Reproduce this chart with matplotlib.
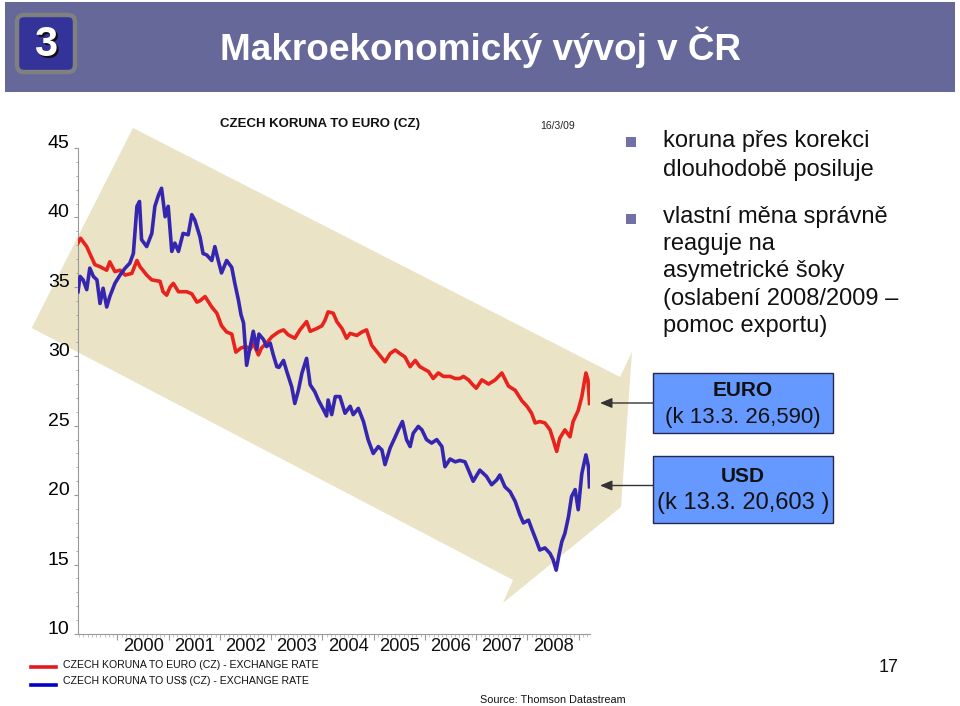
import matplotlib
matplotlib.use('Agg')
import matplotlib.pyplot as plt
from matplotlib import font_manager
from matplotlib.patches import Polygon, Rectangle, FancyBboxPatch, FancyArrowPatch
from matplotlib.lines import Line2D
import matplotlib.transforms as mtransforms
from matplotlib.ticker import MultipleLocator, FixedLocator, NullFormatter

# ---------------- data ----------------
eur_dates = [1999.23, 1999.28, 1999.40, 1999.46, 1999.56, 1999.66, 1999.79, 1999.85, 1999.95, 2000.05,
             2000.15, 2000.28, 2000.38, 2000.44, 2000.57, 2000.67, 2000.83, 2000.89, 2000.96, 2001.03,
             2001.09, 2001.19, 2001.35, 2001.45, 2001.55, 2001.61, 2001.71, 2001.84, 2001.94, 2002.03,
             2002.13, 2002.23, 2002.31, 2002.41, 2002.51, 2002.59, 2002.65, 2002.75, 2002.81, 2002.91,
             2003.01, 2003.14, 2003.24, 2003.33, 2003.46, 2003.56, 2003.69, 2003.76, 2003.89, 2003.99,
             2004.05, 2004.11, 2004.21, 2004.28, 2004.38, 2004.47, 2004.54, 2004.67, 2004.77, 2004.86,
             2004.96, 2005.09, 2005.22, 2005.32, 2005.42, 2005.51, 2005.61, 2005.71, 2005.81, 2005.90,
             2006.07, 2006.16, 2006.26, 2006.36, 2006.49, 2006.59, 2006.68, 2006.75, 2006.85, 2006.92,
             2007.00, 2007.11, 2007.24, 2007.37, 2007.50, 2007.63, 2007.76, 2007.89, 2007.99, 2008.08,
             2008.15, 2008.24, 2008.34, 2008.44, 2008.50, 2008.57, 2008.63, 2008.73, 2008.83, 2008.89,
             2008.99, 2009.06, 2009.14, 2009.18, 2009.21]
eur_values = [38.16, 38.5, 37.9, 37.4, 36.6, 36.45, 36.2, 36.8, 36.1, 36.2,
              35.85, 35.97, 36.9, 36.45, 35.85, 35.5, 35.4, 34.65, 34.4, 35.0,
              35.25, 34.65, 34.65, 34.5, 33.9, 34.0, 34.3, 33.55, 33.1, 32.2,
              31.75, 31.6, 30.3, 30.6, 30.7, 30.5, 30.95, 30.1, 30.6, 30.95,
              31.4, 31.75, 31.9, 31.55, 31.3, 31.9, 32.5, 31.8, 32.0, 32.2,
              32.6, 33.2, 33.1, 32.5, 32.0, 31.3, 31.65, 31.5, 31.75, 31.9,
              30.8, 30.2, 29.6, 30.2, 30.45, 30.2, 29.95, 29.25, 29.7, 29.25,
              28.9, 28.4, 28.8, 28.55, 28.55, 28.4, 28.4, 28.55, 28.3, 28.0,
              27.7, 28.3, 28.0, 28.3, 28.8, 27.85, 27.55, 26.8, 26.4, 25.9,
              25.2, 25.3, 25.2, 24.7, 24.0, 23.15, 24.1, 24.7, 24.2, 25.3,
              26.1, 27.1, 28.8, 28.3, 26.6]

usd_dates = [1999.23, 1999.27, 1999.33, 1999.40, 1999.46, 1999.53, 1999.60, 1999.66, 1999.72, 1999.79,
             1999.85, 1999.95, 2000.05, 2000.15, 2000.24, 2000.31, 2000.38, 2000.43, 2000.47, 2000.57,
             2000.67, 2000.73, 2000.80, 2000.86, 2000.93, 2000.99, 2001.06, 2001.12, 2001.19, 2001.28,
             2001.38, 2001.45, 2001.51, 2001.61, 2001.67, 2001.74, 2001.84, 2001.90, 2001.96, 2002.03,
             2002.13, 2002.23, 2002.29, 2002.36, 2002.41, 2002.46, 2002.52, 2002.59, 2002.65, 2002.72,
             2002.76, 2002.85, 2002.91, 2002.98, 2003.04, 2003.11, 2003.15, 2003.24, 2003.30, 2003.40,
             2003.46, 2003.53, 2003.60, 2003.69, 2003.76, 2003.85, 2003.92, 2004.02, 2004.08, 2004.11,
             2004.18, 2004.25, 2004.34, 2004.44, 2004.54, 2004.60, 2004.70, 2004.80, 2004.89, 2004.99,
             2005.09, 2005.16, 2005.22, 2005.32, 2005.42, 2005.48, 2005.56, 2005.64, 2005.71, 2005.77,
             2005.87, 2005.94, 2006.03, 2006.13, 2006.23, 2006.33, 2006.39, 2006.49, 2006.59, 2006.68,
             2006.78, 2006.85, 2006.94, 2007.07, 2007.20, 2007.30, 2007.40, 2007.46, 2007.56, 2007.66,
             2007.76, 2007.85, 2007.92, 2008.02, 2008.08, 2008.18, 2008.24, 2008.34, 2008.44, 2008.50,
             2008.56, 2008.62, 2008.67, 2008.73, 2008.80, 2008.86, 2008.93, 2008.99, 2009.06, 2009.09,
             2009.14, 2009.19, 2009.21]
usd_values = [34.65, 35.75, 35.5, 34.8, 36.35, 35.75, 35.5, 33.8, 34.9, 33.55,
              34.3, 35.25, 35.85, 36.35, 36.7, 37.4, 40.8, 41.15, 38.4, 37.9,
              38.85, 40.8, 41.6, 42.1, 40.05, 40.8, 37.55, 38.15, 37.55, 38.85,
              38.75, 40.2, 39.8, 38.6, 37.4, 37.3, 36.9, 37.9, 37.0, 36.0,
              36.9, 36.4, 35.25, 34.05, 33.0, 32.4, 29.35, 30.7, 31.8, 30.5,
              31.6, 31.2, 30.7, 30.95, 30.1, 29.25, 29.2, 29.7, 28.95, 27.8,
              26.6, 27.55, 28.8, 29.85, 27.95, 27.45, 26.85, 26.15, 25.7, 26.85,
              25.8, 27.1, 27.1, 25.9, 26.4, 25.8, 26.25, 25.3, 24.0, 23.0,
              23.5, 23.25, 22.2, 23.4, 24.2, 24.7, 25.3, 24.0, 23.5, 24.45,
              24.95, 24.7, 24.0, 23.75, 24.0, 23.5, 22.05, 22.6, 22.4, 22.5,
              22.4, 21.8, 21.0, 21.8, 21.35, 20.75, 21.1, 21.45, 20.6, 20.25,
              19.55, 18.6, 18.0, 18.2, 17.6, 16.65, 16.05, 16.2, 15.8, 15.35,
              14.6, 15.8, 16.65, 17.25, 18.45, 19.9, 20.4, 18.95, 21.55, 22.05,
              22.9, 22.05, 20.6]

year_labels = [2000, 2001, 2002, 2003, 2004, 2005, 2006, 2007, 2008]
y_ticks = [10, 15, 20, 25, 30, 35, 40, 45]
x_start, x_end = 1999.23, 2009.21

title = "Makroekonomický vývoj v ČR"
chart_title = "CZECH KORUNA TO EURO (CZ)"
chart_date = "16/3/09"
bullet_lines = [["koruna přes korekci", "dlouhodobě posiluje"],
                ["vlastní měna správně", "reaguje na", "asymetrické šoky",
                 "(oslabení 2008/2009 –", "pomoc exportu)"]]
legend_labels = ["CZECH KORUNA TO EURO (CZ) - EXCHANGE RATE",
                 "CZECH KORUNA TO US$ (CZ) - EXCHANGE RATE"]

RED = '#E8231E'
BLUE = '#3426B0'


def has_font(name):
    try:
        font_manager.findfont(font_manager.FontProperties(family=name), fallback_to_default=False)
        return True
    except Exception:
        return False


plt.rcParams['font.family'] = ['Liberation Sans', 'DejaVu Sans']
narrow = ['Liberation Sans Narrow', 'Liberation Sans'] if has_font('Liberation Sans Narrow') else None

W, H = 960, 706
fig = plt.figure(figsize=(W / 100, H / 100), dpi=100)
fig.patch.set_facecolor('white')
T = mtransforms.Affine2D().scale(1 / W, -1 / H).translate(0, 1) + fig.transFigure

# banner
fig.add_artist(Rectangle((5, 2), 950, 90, transform=T, facecolor='#67689A', edgecolor='none', zorder=0))
fig.add_artist(FancyBboxPatch((17, 15), 58, 57, boxstyle='round,pad=0,rounding_size=7', transform=T,
                              facecolor='#333399', edgecolor='#808080', linewidth=3.2, zorder=1))
fig.text(47.5, 58, "3", transform=T, color='#111111', fontsize=30, fontweight='bold', ha='center', va='baseline', zorder=2)
fig.text(46, 56.5, "3", transform=T, color='white', fontsize=30, fontweight='bold', ha='center', va='baseline', zorder=3)
fig.text(220, 60, title, transform=T, color='white', fontsize=26.6, fontweight='bold', ha='left', va='baseline', zorder=2)

# beige background callout shape
bg = [(133, 128), (620, 377), (632, 352), (621, 507), (503, 603), (513, 580), (31.7, 328)]
fig.add_artist(Polygon(bg, closed=True, transform=T, facecolor='#EAE3C6', edgecolor='none', zorder=0))

# chart
ax = fig.add_axes([78 / W, (H - 634) / H, (589.5 - 78) / W, (634 - 148) / H], zorder=1)
ax.set_facecolor('none')
ax.plot(eur_dates, eur_values, color=RED, lw=2.6, solid_joinstyle='round', zorder=3)
ax.plot(usd_dates, usd_values, color=BLUE, lw=2.6, solid_joinstyle='round', zorder=3)
ax.set_xlim(x_start, x_end)
ax.set_ylim(10, 45)
for s in ['top', 'right']:
    ax.spines[s].set_visible(False)
for s in ['left', 'bottom']:
    ax.spines[s].set_color('#9A9A9A')
    ax.spines[s].set_linewidth(0.8)
ax.yaxis.set_major_locator(FixedLocator(y_ticks))
ax.yaxis.set_minor_locator(MultipleLocator(1))
ax.tick_params(axis='y', which='major', length=3, color='#9A9A9A', labelsize=14, pad=3, direction='out')
ax.tick_params(axis='y', which='minor', length=1.8, color='#9A9A9A', direction='out')
for lab in ax.get_yticklabels():
    lab.set_verticalalignment('baseline')
ax.xaxis.set_major_locator(FixedLocator(list(range(2000, 2010))))
ax.xaxis.set_minor_locator(FixedLocator([y + m / 12 for y in range(1999, 2010) for m in range(12)]))
ax.xaxis.set_major_formatter(NullFormatter())
ax.tick_params(axis='x', which='major', length=4, color='#9A9A9A', direction='out')
ax.tick_params(axis='x', which='minor', length=2.5, color='#BBBBBB', direction='out')
blend = mtransforms.blended_transform_factory(ax.transData, ax.transAxes)
for yr in year_labels:
    ax.text(yr + 0.5, -0.026, str(yr), transform=blend, ha='center', va='center', fontsize=13.2, color='#111111')

fig.text(220, 124, chart_title, transform=T, fontsize=9.5, fontweight='bold', ha='left', va='center', color='#111111')
fig.text(540, 126, chart_date, transform=T, fontsize=7.5, ha='left', va='center', color='#222222',
         **({'family': narrow} if narrow else {}))

# bullets
bullet_tops = [137, 214]
baselines = [[147.3, 175.7], [223.3, 250.3, 277.5, 304.8, 331.8]]
for top, lines, bls in zip(bullet_tops, bullet_lines, baselines):
    fig.add_artist(Rectangle((626, top), 9.5, 9.5, transform=T, facecolor='#7171A8', edgecolor='none'))
    for txt, bl in zip(lines, bls):
        fig.text(663, bl, txt, transform=T, fontsize=17, ha='left', va='baseline', color='#111111')

# value boxes
boxes = [((653.3, 373.3), 59.4, "EURO", "(k 13.3. 26,590)", 16, 390, 417, 403),
         ((653.3, 455.7), 67.0, "USD", "(k 13.3. 20,603 )", 17, 476, 503, 485.5)]
for (bx, by), bh, head, sub, subsize, yh, ys, ya in boxes:
    fig.add_artist(Rectangle((bx, by), 179.4, bh, transform=T, facecolor='#6699FF', edgecolor='#262650', linewidth=1))
    fig.text(bx + 89.7, yh, head, transform=T, fontsize=15, fontweight='bold', ha='center', va='center', color='#111111')
    fig.text(bx + 89.7, ys, sub, transform=T, fontsize=subsize, ha='center', va='center', color='#111111')
    fig.add_artist(FancyArrowPatch((bx, ya), (600, ya), transform=T, arrowstyle='-|>,head_length=0.6,head_width=0.25',
                                   mutation_scale=12, color='#333333', linewidth=1, shrinkA=0, shrinkB=0))

# legend
leg_kw = {'family': narrow, 'fontsize': 9} if narrow else {'fontsize': 7.6}
for (ly, ty), col, lab in zip([(667, 665), (684.5, 681.5)], ['#E31A1C', '#0000CC'], legend_labels):
    fig.add_artist(Line2D([31, 56], [ly, ly], transform=T, color=col, linewidth=2.6))
    fig.text(63, ty, lab, transform=T, ha='left', va='center', color='#111111', **leg_kw)

src_kw = {'family': narrow, 'fontsize': 9} if narrow else {'fontsize': 7.8}
fig.text(480, 700, "Source: Thomson Datastream", transform=T, ha='left', va='center', color='#111111', **src_kw)
fig.text(889, 668, "17", transform=T, ha='center', va='center', fontsize=13, color='#111111')

fig.savefig('out.png', dpi=100)
